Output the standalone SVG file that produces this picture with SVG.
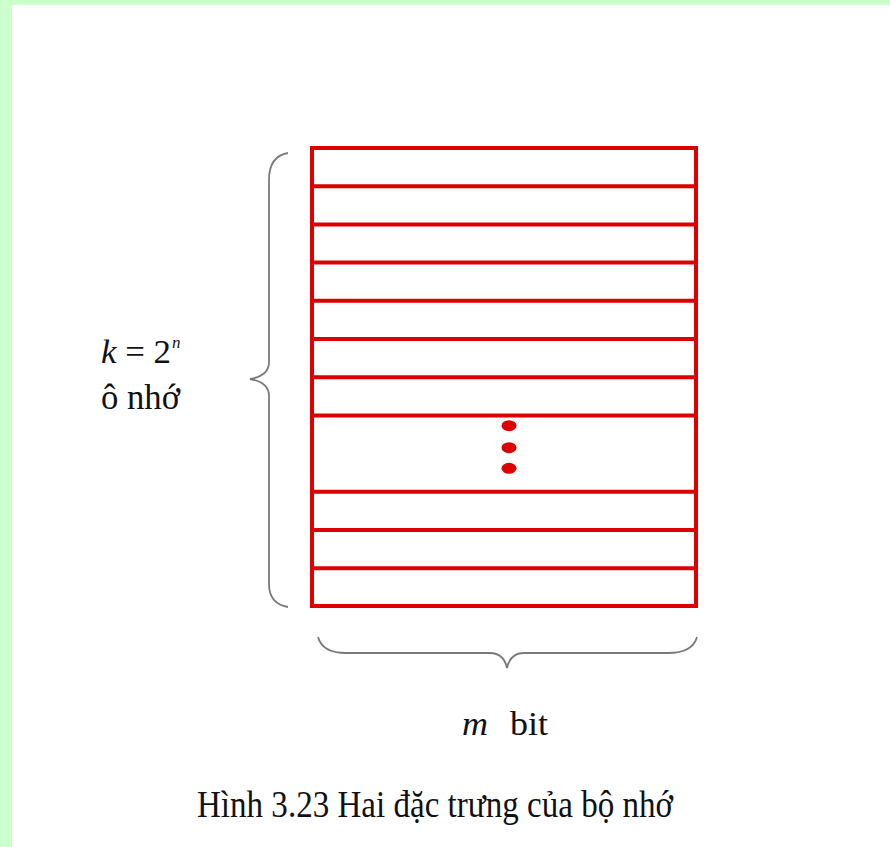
<svg xmlns="http://www.w3.org/2000/svg" width="890" height="847" viewBox="0 0 890 847">
<style>
.cell{fill:none;stroke:#dd0000;stroke-width:4}
.row{stroke:#dd0000;stroke-width:4}
.dot{fill:#dd0000}
.brace{fill:none;stroke:#7a7a7a;stroke-width:1.8}
.t{font-family:"Liberation Serif","Times New Roman",serif;fill:#111}
</style>
<rect x="0" y="0" width="890" height="847" fill="#ffffff"/>
<rect x="0" y="0" width="890" height="5" fill="#ccffcc"/>
<rect x="0" y="0" width="12" height="847" fill="#ccffcc"/>
<g id="memory">
<rect class="cell" x="312" y="148" width="384" height="458"/>
<line class="row" x1="312" y1="186.2" x2="696" y2="186.2"/>
<line class="row" x1="312" y1="224.4" x2="696" y2="224.4"/>
<line class="row" x1="312" y1="262.6" x2="696" y2="262.6"/>
<line class="row" x1="312" y1="300.8" x2="696" y2="300.8"/>
<line class="row" x1="312" y1="339" x2="696" y2="339"/>
<line class="row" x1="312" y1="377.2" x2="696" y2="377.2"/>
<line class="row" x1="312" y1="415.4" x2="696" y2="415.4"/>
<line class="row" x1="312" y1="491.8" x2="696" y2="491.8"/>
<line class="row" x1="312" y1="530" x2="696" y2="530"/>
<line class="row" x1="312" y1="568.2" x2="696" y2="568.2"/>
<ellipse class="dot" cx="509" cy="425.7" rx="7.5" ry="5.5"/>
<ellipse class="dot" cx="509" cy="447.7" rx="7.5" ry="5.5"/>
<ellipse class="dot" cx="509" cy="468.3" rx="7.5" ry="5.5"/>
</g>
<g id="connectors">
<path class="brace" d="M 288 153 C 276 155, 269 163, 269 180 L 269 362 C 269 372, 262 377, 250 379 C 262 381, 269 386, 269 396 L 269 584 C 269 598, 276 605, 288 607"/>
<path class="brace" d="M 318 637 C 321 648, 330 653, 346 653 L 490 653 C 500 653, 505 659, 507 668 C 509 659, 514 653, 524 653 L 668 653 C 684 653, 694 648, 697 637"/>
</g>
<g id="label-k">
<text class="t" x="101" y="363" font-size="34" textLength="70" lengthAdjust="spacingAndGlyphs"><tspan font-style="italic">k</tspan> = 2</text>
<text class="t" x="172" y="348" font-size="17" font-style="italic">n</text>
<text class="t" x="101" y="409" font-size="35" textLength="79" lengthAdjust="spacingAndGlyphs">ô nhớ</text>
</g>
<g id="label-m">
<text class="t" x="462" y="735" font-size="34" font-style="italic" textLength="26" lengthAdjust="spacingAndGlyphs">m</text>
<text class="t" x="510" y="735" font-size="34" textLength="38" lengthAdjust="spacingAndGlyphs">bit</text>
</g>
<g id="caption">
<text class="t" x="197" y="817" font-size="37" textLength="476" lengthAdjust="spacingAndGlyphs">Hình 3.23 Hai đặc trưng của bộ nhớ</text>
</g>
</svg>
